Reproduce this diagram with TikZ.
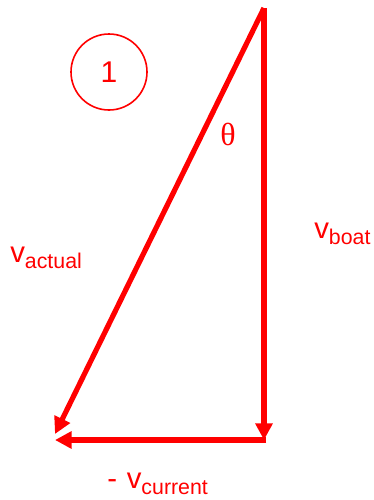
\documentclass[tikz,border=0pt]{standalone}
\usepackage{fontspec}
\setmainfont{Liberation Sans}
\newfontfamily\serifgreek{Liberation Serif}
\usetikzlibrary{arrows.meta}
\definecolor{vred}{RGB}{255,0,0}
\begin{document}
\begin{tikzpicture}[x=0.75pt,y=-0.75pt,
  vec/.style={draw=vred,line width=3.9pt,-{Triangle[length=12.5pt,width=12.5pt]}},
  lbl/.style={text=vred,inner sep=0pt,font=\fontsize{22}{24}\selectfont}]
\useasboundingbox (0,0) rectangle (374,500);
\coordinate (top) at (264,8);
\coordinate (br) at (264,440);
\coordinate (bl) at (55,440);
\coordinate (dl) at (55,434);
\draw[vec] (top) -- (dl);
\draw[vec] (top) -- (br);
\draw[vec] ([xshift=1.5pt]br) -- (bl);
\node[draw=vred,line width=1.2pt,circle,minimum size=57pt,inner sep=0pt,text=vred,font=\fontsize{22.5}{24}\selectfont] (one) at (109,72) {1};
\node[text=vred,inner sep=0pt,font=\serifgreek\fontsize{24}{26}\selectfont] (theta) at (228,134) {θ};
\node[lbl,anchor=base west] (va) at (10,262) {v\raisebox{-0.22em}{\fontsize{16}{18}\selectfont actual}};
\node[lbl,anchor=base west] (vb) at (314,238) {v\raisebox{-0.22em}{\fontsize{16}{18}\selectfont boat}};
\node[lbl,anchor=base west] (vc) at (107,488) {-\,\,v\raisebox{-0.22em}{\fontsize{16}{18}\selectfont current}};
\end{tikzpicture}
\end{document}
